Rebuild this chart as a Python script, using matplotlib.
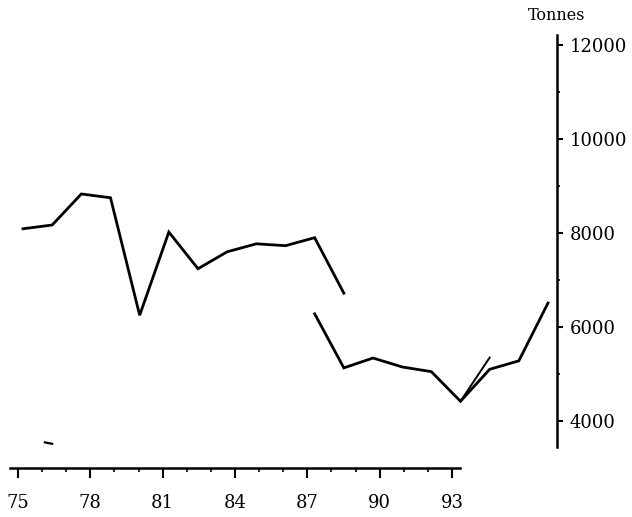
import numpy as np
import matplotlib.pyplot as plt
from matplotlib.ticker import MultipleLocator, FixedLocator

# landings in tonnes
years_old = np.array([75, 76, 77, 78, 79, 80, 81, 82, 83, 84, 85, 86])
tonnes_old = np.array([8090, 8170, 8830, 8750, 6250, 8020, 7240, 7600, 7770, 7730, 7900, 6720])

years_new = np.array([85, 86, 87, 88, 89, 90, 91, 92, 93])
tonnes_new = np.array([6280, 5130, 5340, 5150, 5050, 4420, 5100, 5280, 6510])

# second stroke drawn over 1990-91 in the original
years_extra = np.array([90, 91])
tonnes_extra = np.array([4420, 5350])

# stray mark near the lower left of the scan
years_mark = np.array([75.75, 76.0])
tonnes_mark = np.array([3545, 3515])

x_ticks = [75, 78, 81, 84, 87, 90, 93]
y_ticks = [4000, 6000, 8000, 10000, 12000]
y_minor = [5000, 7000, 9000, 11000]

W, H = 632, 517
plt.rcParams['font.family'] = ['DejaVu Serif']

fig = plt.figure(figsize=(W / 100, H / 100), dpi=100)

# data axes cover the whole figure, scaled to match the scan
ax = fig.add_axes([0, 0, 1, 1])
ax.patch.set_alpha(0)
px_yr = (548 - 23) / 18
px_t = 94 / 2000
ax.set_xlim(75 - 23 / px_yr, 75 + (W - 23) / px_yr)
ax.set_ylim(4000 - (H - 421) / px_t, 4000 + 421 / px_t)

ax.plot(years_old, tonnes_old, color='black', lw=2.0, solid_joinstyle='miter')
ax.plot(years_new, tonnes_new, color='black', lw=2.0, solid_joinstyle='miter')
ax.plot(years_extra, tonnes_extra, color='black', lw=1.4)
ax.plot(years_mark, tonnes_mark, color='black', lw=1.6)

for s in ['top', 'left', 'bottom']:
    ax.spines[s].set_visible(False)
ax.spines['right'].set_position(('data', 75 + (557 - 23) / px_yr))
ax.spines['right'].set_bounds(4000 - (447 - 421) / px_t, 4000 + (421 - 35) / px_t)
ax.spines['right'].set_linewidth(1.8)
ax.set_xticks([])
ax.yaxis.tick_right()
ax.set_yticks(y_ticks)
ax.set_yticklabels([str(v) for v in y_ticks])
ax.yaxis.set_minor_locator(FixedLocator(y_minor))
ax.tick_params(axis='y', which='major', direction='out', length=4, width=1.5,
               pad=5, labelsize=13)
ax.tick_params(axis='y', which='minor', direction='out', length=2.5, width=1.2)

ax.text(557 / W, 1 - 15 / H, 'Tonnes', transform=ax.transAxes,
        ha='center', va='center', fontsize=11.5)

# bottom year axis, drawn on its own scale like the original
px_yr2 = (452 - 18) / 18
ax2 = fig.add_axes([10 / W, (H - 468) / H, 450 / W, 0.001])
ax2.patch.set_alpha(0)
ax2.set_xlim(75 - 8 / px_yr2, 93 + 8 / px_yr2)
for s in ['top', 'left', 'right']:
    ax2.spines[s].set_visible(False)
ax2.spines['bottom'].set_linewidth(1.8)
ax2.set_yticks([])
ax2.set_xticks(x_ticks)
ax2.set_xticklabels([str(v) for v in x_ticks])
ax2.xaxis.set_minor_locator(MultipleLocator(1))
ax2.tick_params(axis='x', which='major', direction='out', length=7, width=1.5,
                pad=12, labelsize=13)
ax2.tick_params(axis='x', which='minor', direction='out', length=3, width=1.2)

fig.savefig('out.png', dpi=100)
